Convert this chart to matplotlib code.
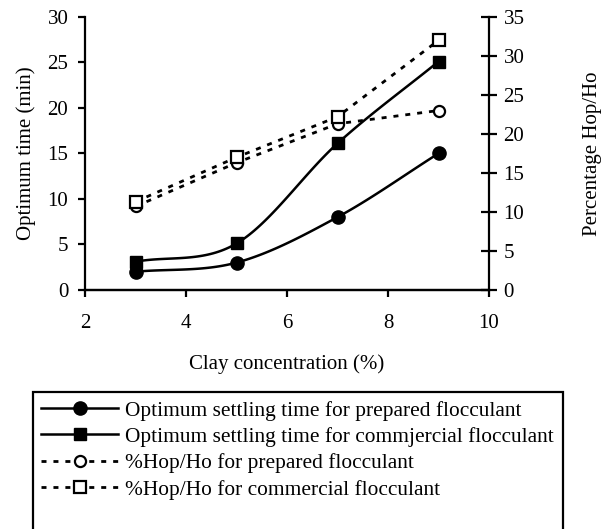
import numpy as np
import matplotlib
matplotlib.use("Agg")
import matplotlib.pyplot as plt
from matplotlib.lines import Line2D
from matplotlib.patches import Rectangle

plt.rcParams['font.family'] = ['Liberation Serif', 'DejaVu Serif']

# data
clay = [3, 5, 7, 9]
time_prepared = [2.0, 3.0, 8.0, 15.0]
time_commercial = [3.1, 5.1, 16.1, 25.1]
hop_prepared = [10.7, 16.3, 21.3, 23.0]
hop_commercial = [11.3, 17.0, 22.2, 32.0]

labels = [
    'Optimum settling time for prepared flocculant',
    'Optimum settling time for commjercial flocculant',
    '%Hop/Ho for prepared flocculant',
    '%Hop/Ho for commercial flocculant',
]


def smooth(x, y, n=40):
    # Catmull-Rom curve through the points (like Excel's smoothed line)
    x = np.asarray(x, float)
    y = np.asarray(y, float)
    px = np.concatenate([[2 * x[0] - x[1]], x, [2 * x[-1] - x[-2]]])
    py = np.concatenate([[2 * y[0] - y[1]], y, [2 * y[-1] - y[-2]]])
    xs, ys = [], []
    t = np.linspace(0, 1, n)
    for i in range(1, len(px) - 2):
        for p, out in ((px, xs), (py, ys)):
            p0, p1, p2, p3 = p[i - 1], p[i], p[i + 1], p[i + 2]
            out.extend(0.5 * ((2 * p1) + (-p0 + p2) * t
                              + (2 * p0 - 5 * p1 + 4 * p2 - p3) * t ** 2
                              + (-p0 + 3 * p1 - 3 * p2 + p3) * t ** 3))
    return xs, ys


fig = plt.figure(figsize=(6.09, 5.29), dpi=100)
ax = fig.add_axes([0.1396, 0.452, 0.6634, 0.516])
ax2 = ax.twinx()

lw = 1.8
dash = dict(color='black', lw=2, dashes=(1.8, 2.5), mfc='white', mew=1.6, ms=8)

sx, sy = smooth(clay, time_prepared)
ax.plot(sx, sy, color='black', lw=lw)
ax.plot(clay, time_prepared, 'o', color='black', ms=9.5)
sx, sy = smooth(clay, time_commercial)
ax.plot(sx, sy, color='black', lw=lw)
ax.plot(clay, time_commercial, 's', color='black', ms=9)

ax2.plot(clay, hop_prepared, marker='o', **dash)
ax2.plot(clay, hop_commercial, marker='s', **dash)

ax.set_xlim(2, 10)
ax.set_ylim(0, 30)
ax2.set_ylim(0, 35)
ax.set_xticks([2, 4, 6, 8, 10])
ax.set_yticks(range(0, 31, 5))
ax2.set_yticks(range(0, 36, 5))

for a in (ax, ax2):
    for s in a.spines.values():
        s.set_linewidth(1.6)
    a.spines['top'].set_visible(False)
ax2.spines['left'].set_visible(False)
ax.spines['right'].set_visible(False)

ax.tick_params(axis='x', labelsize=15, width=1.6, direction='out', length=5, pad=12)
ax.tick_params(axis='y', labelsize=15, width=1.6, direction='out', length=5, pad=7)
ax2.tick_params(axis='y', labelsize=15, width=1.6, direction='inout', length=11, pad=5)

ax.set_xlabel('Clay concentration (%)', fontsize=15, labelpad=16)
ax.set_ylabel('Optimum time (min)', fontsize=15, labelpad=8)
ax2.set_ylabel('Percentage Hop/Ho', fontsize=15, labelpad=42)

handles = [
    Line2D([], [], marker='o', color='black', lw=lw, ms=9.5),
    Line2D([], [], marker='s', color='black', lw=lw, ms=9),
    Line2D([], [], marker='o', **dash),
    Line2D([], [], marker='s', **dash),
]
leg = fig.legend(handles, labels, loc='upper left', bbox_to_anchor=(0.054, 0.259),
                 bbox_transform=fig.transFigure, fontsize=15.4, handlelength=3.6,
                 handletextpad=0.3, labelspacing=0.3, borderaxespad=0, borderpad=0.4,
                 frameon=False, numpoints=1)

# legend box runs past the bottom edge of the picture in the original
fig.patches.append(Rectangle((0.054, -0.02), 0.87, 0.279, transform=fig.transFigure,
                             fill=False, edgecolor='black', lw=1.6, clip_on=False))

fig.savefig('out.png', dpi=100)
